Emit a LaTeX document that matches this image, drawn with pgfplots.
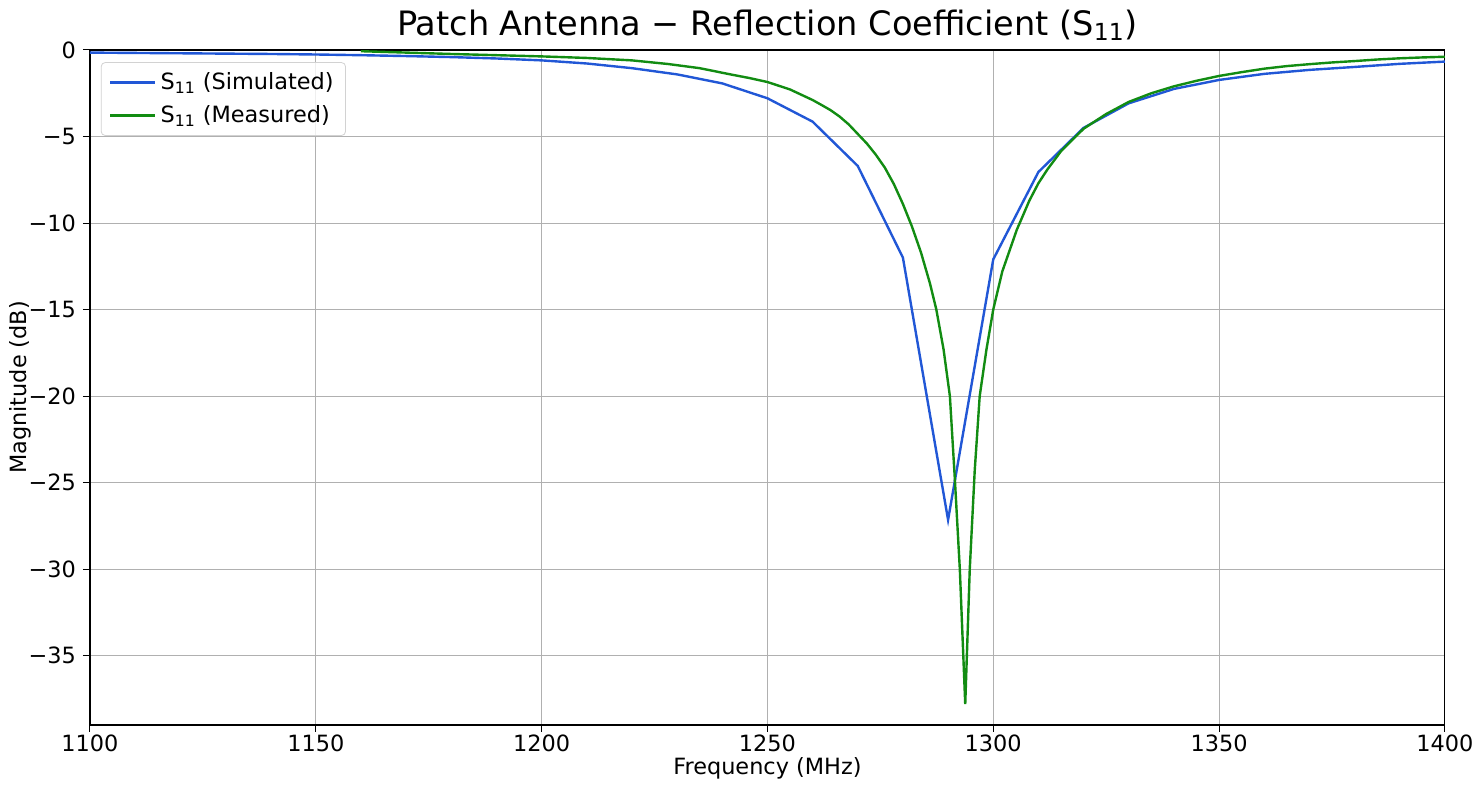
\documentclass[border=0pt]{standalone}
\usepackage{pgfplots}
\pgfplotsset{compat=1.18}
\usepackage{fontspec}
\setmainfont{DejaVu Sans}
\definecolor{simblue}{RGB}{33,87,214}
\definecolor{measgreen}{RGB}{18,140,18}
\definecolor{gridgray}{RGB}{176,176,176}
\begin{document}
\begin{tikzpicture}
\begin{axis}[
  scale only axis,
  width=677.5bp, height=337.5bp,
  xmin=1100, xmax=1400, ymin=-39, ymax=0,
  xtick={1100,1150,...,1400},
  ytick={-35,-30,-25,-20,-15,-10,-5,0},
  yticklabels={−35,−30,−25,−20,−15,−10,−5,0},
  /pgf/number format/assume math mode=true,
  /pgf/number format/1000 sep={},
  tick label style={font=\fontsize{11.2bp}{13bp}\selectfont},
  xticklabel style={yshift=2bp},
  label style={font=\fontsize{11.2bp}{13bp}\selectfont, inner sep=0pt},
  every axis title shift=0pt,
  title style={font=\fontsize{16.8bp}{19bp}\selectfont, at={(axis description cs:0.5,1.037)}, anchor=center, yshift=0pt, inner sep=0pt},
  title={Patch Antenna − Reflection Coefficient (S\textsubscript{11})},
  xlabel={Frequency (MHz)},
  ylabel={Magnitude (dB)},
  xlabel style={at={(axis description cs:0.5,-0.064)}, anchor=center},
  ylabel style={at={(axis description cs:-0.0517,0.5)}, anchor=center, rotate=0},
  grid=major,
  major grid style={gridgray, line width=0.5bp},
  tick align=outside,
  major tick length=3.5bp,
  tick style={black, line width=0.5bp},
  axis line style={black, line width=0.6bp},
  xtick pos=bottom, ytick pos=left,
  legend style={at={(0.008,0.982)}, anchor=north west, draw=gray!35, rounded corners=2bp,
    fill=white, fill opacity=0.8, text opacity=1,
    font=\fontsize{11.2bp}{13bp}\selectfont, inner xsep=4bp, inner ysep=3bp,
    row sep=2.5bp},
  legend cell align=left,
  legend image code/.code={\draw[#1] (0bp,0bp) -- (22.5bp,0bp);},
]
\addplot[simblue, line width=1.2bp] coordinates {
(1100,-0.15) (1110,-0.17) (1120,-0.19) (1130,-0.21) (1140,-0.23) (1150,-0.26)
(1160,-0.30) (1170,-0.35) (1180,-0.41) (1190,-0.49) (1200,-0.60) (1210,-0.78)
(1220,-1.05) (1230,-1.41) (1240,-1.93) (1250,-2.79) (1260,-4.14) (1270,-6.70)
(1280,-12.0) (1290,-27.15) (1300,-12.1) (1310,-7.05) (1320,-4.50) (1330,-3.08)
(1340,-2.25) (1350,-1.73) (1360,-1.38) (1370,-1.15) (1380,-0.98) (1390,-0.80)
(1400,-0.67)
};
\addlegendentry{S\textsubscript{11} (Simulated)}
\addplot[measgreen, line width=1.2bp] coordinates {
(1160,-0.07) (1170,-0.15) (1180,-0.23) (1190,-0.30) (1200,-0.37) (1210,-0.46)
(1220,-0.60) (1228,-0.81) (1235,-1.05) (1242,-1.42) (1246,-1.62) (1250,-1.85)
(1255,-2.28) (1260,-2.89) (1262,-3.18) (1264,-3.48) (1266,-3.85) (1268,-4.30)
(1270,-4.85) (1272,-5.40) (1274,-6.05) (1276,-6.80) (1278,-7.75) (1280,-8.90)
(1282,-10.2) (1284,-11.7) (1286,-13.5) (1287.4,-15.0) (1289,-17.3) (1290.4,-20.0)
(1291.5,-24.8) (1292.6,-30.0) (1293.8,-37.8) (1294.8,-30.0) (1295.9,-24.3)
(1297,-20.0) (1298.5,-17.3) (1300,-15.0) (1302,-12.8) (1305.2,-10.4) (1308,-8.7)
(1310,-7.7) (1312,-6.9) (1315,-5.85) (1320,-4.55) (1325,-3.70) (1330,-3.00)
(1335,-2.50) (1340,-2.10) (1345,-1.78) (1350,-1.50) (1355,-1.28) (1360,-1.08)
(1365,-0.93) (1370,-0.82) (1375,-0.72) (1380,-0.64) (1385,-0.55) (1390,-0.48)
(1395,-0.43) (1400,-0.39)
};
\addlegendentry{S\textsubscript{11} (Measured)}
\end{axis}
\path ([xshift=-45bp,yshift=-31.5bp]current axis.south west) rectangle ([xshift=17.5bp,yshift=25bp]current axis.north east);
\end{tikzpicture}
\end{document}
